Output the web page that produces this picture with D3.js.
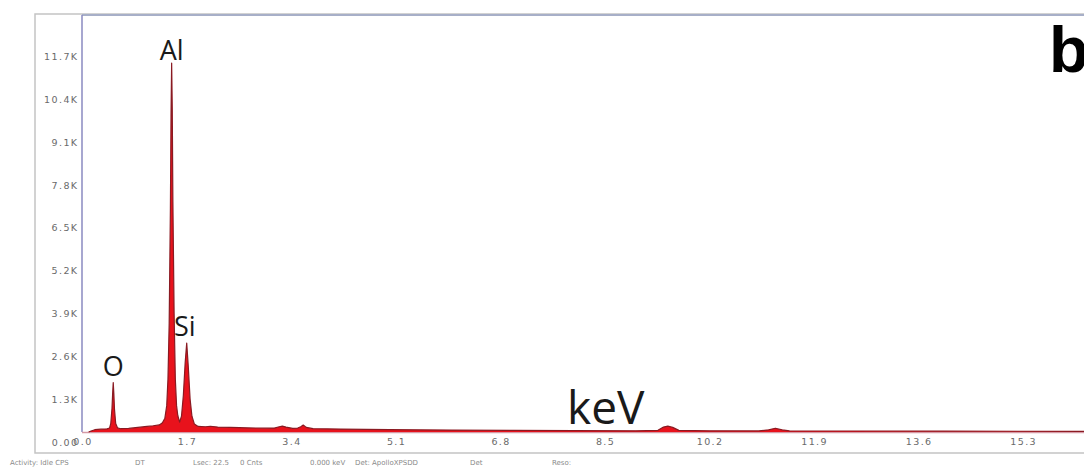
<!DOCTYPE html>
<html>
<head>
<meta charset="utf-8">
<script src="https://cdn.jsdelivr.net/npm/d3@7"></script>
<style>
  html, body { margin: 0; padding: 0; background: #fff; }
  svg { display: block; }
</style>
</head>
<body>
<svg id="chart" width="1084" height="468"></svg>
<script>
// EDS spectrum: energy (keV) and counts
const energy = [
  0.10, 0.14, 0.20, 0.30, 0.40, 0.44, 0.46, 0.48, 0.49, 0.50, 0.51, 0.52, 0.54, 0.57, 0.62,
  0.75, 0.90, 1.05, 1.15, 1.25, 1.30, 1.34, 1.37, 1.39, 1.41, 1.43, 1.44, 1.45, 1.46, 1.47,
  1.49, 1.51, 1.53, 1.55, 1.58, 1.61, 1.64, 1.67, 1.695, 1.72, 1.75, 1.78, 1.82, 1.88,
  2.00, 2.08, 2.20, 2.40, 2.70, 3.00, 3.12, 3.20, 3.25, 3.31, 3.42, 3.50, 3.55, 3.59, 3.64,
  3.75, 4.20, 5.00, 6.00, 7.00, 8.00, 9.00, 9.36, 9.45, 9.52, 9.60, 9.70, 10.20, 11.00,
  11.16, 11.27, 11.38, 11.50, 12.50, 14.00, 16.30
];
const counts = [
  0, 30, 70, 85, 95, 120, 260, 720, 1150, 1500, 1150, 700, 260, 125, 100,
  110, 140, 170, 190, 215, 280, 420, 800, 1600, 3300, 6800, 9600, 11200, 9800, 7000,
  3600, 1600, 800, 500, 300, 480, 1100, 2100, 2700, 2000, 1000, 480, 240, 170,
  160, 175, 150, 140, 125, 115, 120, 160, 180, 150, 110, 120, 160, 210, 140,
  100, 90, 72, 58, 48, 42, 36, 50, 150, 180, 140, 50, 36, 34,
  65, 115, 65, 32, 30, 25, 20
];

// element peak labels
const peakNames = ["O", "Al", "Si"];
const peakEnergy = [0.50, 1.45, 1.695];
const peakCounts = [1500, 11200, 2700];

// axis ticks
const xTicks = [0.0, 1.7, 3.4, 5.1, 6.8, 8.5, 10.2, 11.9, 13.6, 15.3];
const yTicks = [0, 1300, 2600, 3900, 5200, 6500, 7800, 9100, 10400, 11700];
const yTickLabels = ["0.00", "1.3K", "2.6K", "3.9K", "5.2K", "6.5K", "7.8K", "9.1K", "10.4K", "11.7K"];

// status line under the spectrum
const statusText = ["Activity: Idle CPS", "DT", "Lsec: 22.5", "0 Cnts", "0.000 keV", "Det: ApolloXPSDD", "Det", "Reso:"];
const statusPos = [10, 135, 193, 240, 310, 355, 470, 552];

const svg = d3.select("#chart");

const plotLeft = 82.5, plotBottom = 432, plotTop = 15;
const x = d3.scaleLinear().domain([0, 16.29]).range([plotLeft, 1084]);
const y = d3.scaleLinear().domain([0, 12660]).range([plotBottom, plotTop]);

// outer instrument frame
svg.append("path")
  .attr("d", `M1090,14 H35 V453 H1090`)
  .attr("fill", "none").attr("stroke", "#c4c4c4").attr("stroke-width", 1.5);

// plot frame
svg.append("line").attr("x1", 82).attr("x2", 1090).attr("y1", 15).attr("y2", 15)
  .attr("stroke", "#a7afc8").attr("stroke-width", 2);
svg.append("line").attr("x1", 82).attr("x2", 82).attr("y1", 15).attr("y2", 432)
  .attr("stroke", "#8a8ac0").attr("stroke-width", 1.5);
svg.append("line").attr("x1", 82).attr("x2", 1090).attr("y1", 432.5).attr("y2", 432.5)
  .attr("stroke", "#d59aa6").attr("stroke-width", 1.5);

// spectrum
const pts = energy.map((e, i) => [e, counts[i]]);
const area = d3.area().x(d => x(d[0])).y0(y(0)).y1(d => y(d[1]));
const line = d3.line().x(d => x(d[0])).y(d => y(d[1]));

svg.append("path").datum(pts).attr("d", area)
  .attr("fill", "#e8121c");
svg.append("path").datum(pts).attr("d", line)
  .attr("fill", "none").attr("stroke", "#8a1a22").attr("stroke-width", 1.2)
  .attr("stroke-linejoin", "round");

// x axis labels
const xAxis = d3.axisBottom(x).tickValues(xTicks).tickSize(0).tickPadding(6)
  .tickFormat(d => d.toFixed(1));
const gx = svg.append("g").attr("transform", `translate(0,${plotBottom})`).call(xAxis);
gx.select(".domain").remove();
gx.selectAll("text")
  .attr("font-family", "DejaVu Sans").attr("font-size", 9.5)
  .attr("letter-spacing", 1.4).attr("fill", "#6a6a6a");

// y axis labels (drawn just below their count level, as the instrument does)
const yAxis = d3.axisLeft(y).tickValues(yTicks).tickSize(0).tickPadding(4)
  .tickFormat((d, i) => yTickLabels[i]);
const gy = svg.append("g").attr("transform", `translate(${plotLeft},10)`).call(yAxis);
gy.select(".domain").remove();
gy.selectAll("text")
  .attr("font-family", "DejaVu Sans").attr("font-size", 9.5)
  .attr("letter-spacing", 1.4).attr("fill", "#6a6a6a");

// element labels
const labelDx = [0, 0, -2];
const labelDy = [-7, -3, -7];
svg.selectAll("text.elem").data(peakNames).join("text")
  .attr("class", "elem")
  .attr("x", (d, i) => x(peakEnergy[i]) + labelDx[i])
  .attr("y", (d, i) => y(peakCounts[i]) + labelDy[i])
  .attr("text-anchor", "middle")
  .attr("font-family", "Open Sans").attr("font-size", 27)
  .attr("fill", "#1a1a1a")
  .text(d => d);

// energy unit label
svg.append("text")
  .attr("x", 567).attr("y", 424)
  .attr("font-family", "Open Sans").attr("font-size", 46)
  .attr("fill", "#1a1a1a").text("keV");

// panel letter
svg.append("text")
  .attr("x", 1049).attr("y", 72)
  .attr("font-family", "Liberation Sans").attr("font-weight", "bold").attr("font-size", 65)
  .attr("fill", "#000").text("b");

// status line
svg.selectAll("text.status").data(statusText).join("text")
  .attr("class", "status")
  .attr("x", (d, i) => statusPos[i]).attr("y", 465)
  .attr("font-family", "DejaVu Sans").attr("font-size", 7)
  .attr("fill", "#8a8a8a")
  .text(d => d);
</script>
</body>
</html>
